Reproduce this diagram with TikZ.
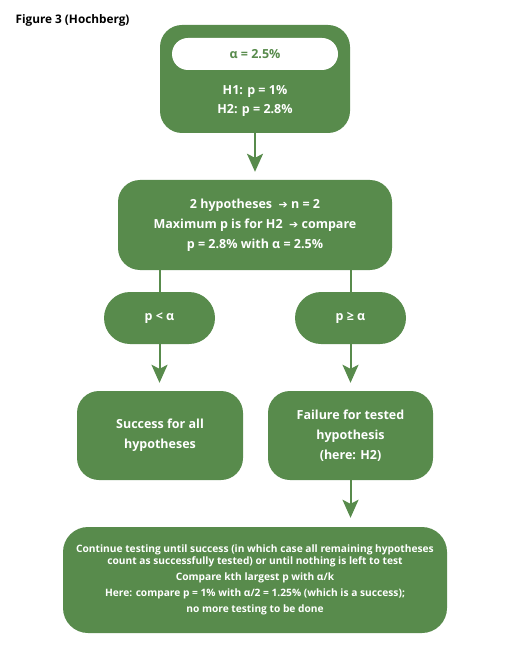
\documentclass[tikz,border=0pt]{standalone}
\usepackage{fontspec}
\setmainfont{Open Sans}
\newfontfamily\symfont{DejaVu Sans}
\usetikzlibrary{arrows.meta}
\definecolor{hgreen}{HTML}{588B4C}
\newcommand{\rarr}{{\symfont\fontsize{11}{11}\selectfont ➔}}
\begin{document}
\begin{tikzpicture}[x=1pt,y=-1pt,
  box/.style={fill=hgreen,draw=none,rounded corners=22pt,text=white,align=center,font=\bfseries\fontsize{12.5}{20}\selectfont,inner sep=0pt},
  pill/.style={fill=hgreen,draw=none,rounded corners=26pt,text=white,align=center,font=\bfseries\fontsize{12.5}{14}\selectfont,minimum width=111pt,minimum height=52pt,inner sep=0pt},
  arr/.style={draw=hgreen,line width=2pt,-{Stealth[length=18pt,width=16pt,inset=4pt]}},
  ln/.style={draw=hgreen,line width=2pt}]
\useasboundingbox (0,0) rectangle (510,660);
\node[anchor=west,font=\bfseries\fontsize{11.8}{13}\selectfont] (title) at (12,20) {Figure 3 (Hochberg)};
% top box
\node[box,minimum width=190pt,minimum height=108pt] (top) at (255,79) {};
\node[fill=white,rounded corners=16pt,minimum width=166pt,minimum height=32pt,inner sep=0pt,text=hgreen,font=\bfseries\fontsize{12.5}{14}\selectfont] (alpha) at (255,54) {α = 2.5\%};
\node[text=white,align=center,font=\bfseries\fontsize{12.5}{19}\selectfont] (hyp) at (255,101) {H1: p = 1\%\\H2: p = 2.8\%};
% middle
\node[box,minimum width=274pt,minimum height=90pt] (mid) at (255,225) {2 hypotheses \ \rarr\ n = 2\\Maximum p is for H2 \ \rarr\ compare\\p = 2.8\% with α = 2.5\%};
% pills
\node[pill] (pl) at (159.5,318) {p < α};
\node[pill] (pr) at (350.5,318) {p ≥ α};
% result boxes
\node[box,minimum width=166pt,minimum height=89pt] (succ) at (160,435.5) {Success for all\\hypotheses};
\node[box,minimum width=165pt,minimum height=89pt] (fail) at (350.5,435.5) {Failure for tested\\hypothesis\\(here: H2)};
% bottom
\node[box,rounded corners=25pt,minimum width=384pt,minimum height=106pt,font=\bfseries\fontsize{10.2}{12}\selectfont] (bot) at (255,580) {Continue testing until success (in which case all remaining hypotheses\\count as successfully tested) or until nothing is left to test\\[4pt]Compare kth largest p with α/k\\[4pt]Here: compare p = 1\% with α/2 = 1.25\% (which is a success);\\[4pt]no more testing to be done};
% connectors
\draw[arr,shorten >=8pt] (top.south) -- (mid.north);
\draw[ln] (pl.north |- mid.south) -- (pl.north);
\draw[ln] (pr.north |- mid.south) -- (pr.north);
\draw[arr,shorten >=8pt] (pl.south) -- (pl.south |- succ.north);
\draw[arr,shorten >=8pt] (pr.south) -- (pr.south |- fail.north);
\draw[arr,shorten >=9pt] (fail.south) -- (fail.south |- bot.north);
\end{tikzpicture}
\end{document}
